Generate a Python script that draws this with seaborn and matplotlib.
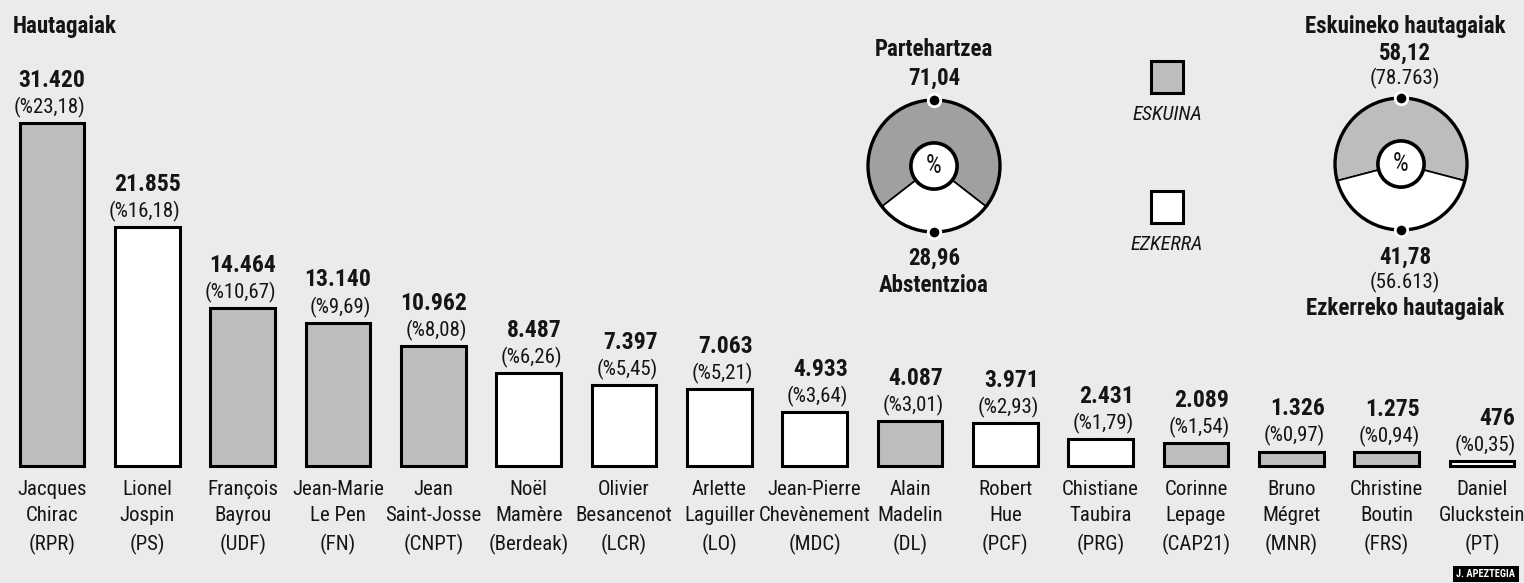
import matplotlib
matplotlib.use("Agg")
import matplotlib.pyplot as plt
import numpy as np
import pandas as pd
import seaborn as sns
from matplotlib import font_manager
from matplotlib.patches import Circle, Rectangle

# --- data -------------------------------------------------------------
names = ["Jacques\nChirac\n(RPR)", "Lionel\nJospin\n(PS)", "François\nBayrou\n(UDF)",
         "Jean-Marie\nLe Pen\n(FN)", "Jean\nSaint-Josse\n(CNPT)", "Noël\nMamère\n(Berdeak)",
         "Olivier\nBesancenot\n(LCR)", "Arlette\nLaguiller\n(LO)", "Jean-Pierre\nChevènement\n(MDC)",
         "Alain\nMadelin\n(DL)", "Robert\nHue\n(PCF)", "Chistiane\nTaubira\n(PRG)",
         "Corinne\nLepage\n(CAP21)", "Bruno\nMégret\n(MNR)", "Christine\nBoutin\n(FRS)",
         "Daniel\nGluckstein\n(PT)"]
votes = [31420, 21855, 14464, 13140, 10962, 8487, 7397, 7063, 4933, 4087, 3971, 2431,
         2089, 1326, 1275, 476]
vote_labels = ["31.420", "21.855", "14.464", "13.140", "10.962", "8.487", "7.397", "7.063",
               "4.933", "4.087", "3.971", "2.431", "2.089", "1.326", "1.275", "476"]
pct_labels = ["(%23,18)", "(%16,18)", "(%10,67)", "(%9,69)", "(%8,08)", "(%6,26)", "(%5,45)",
              "(%5,21)", "(%3,64)", "(%3,01)", "(%2,93)", "(%1,79)", "(%1,54)", "(%0,97)",
              "(%0,94)", "(%0,35)"]
side = ["ESKUINA", "EZKERRA", "ESKUINA", "ESKUINA", "ESKUINA", "EZKERRA", "EZKERRA", "EZKERRA",
        "EZKERRA", "ESKUINA", "EZKERRA", "EZKERRA", "ESKUINA", "ESKUINA", "ESKUINA", "EZKERRA"]

turnout_vals = [71.04, 28.96]
turnout_labels = ["71,04", "28,96"]
bloc_vals = [58.12, 41.78]
bloc_labels = ["58,12", "41,78"]
bloc_votes = ["(78.763)", "(56.613)"]

BG = "#ebebeb"
GREY = "#bdbdbd"
DARK = "#a0a0a0"

sns.set_theme(style="white")
avail = {f.name for f in font_manager.fontManager.ttflist}
fam = "DejaVu Sans"
for cand in ["Roboto Condensed", "Archivo Narrow", "PT Sans Narrow", "IBM Plex Sans Condensed",
             "Liberation Sans Narrow", "Open Sans Condensed"]:
    if cand in avail:
        fam = cand
        break
plt.rcParams['font.family'] = [fam, 'DejaVu Sans']
plt.rcParams['text.color'] = '#151515'

W, H = 1524, 583
fig = plt.figure(figsize=(W / 100, H / 100), dpi=100, facecolor=BG)


def px(x, y):
    return x / W, 1 - y / H


# --- bars -------------------------------------------------------------
ax = fig.add_axes([0, 0, 1, 1])
ax.set_facecolor("none")
df = pd.DataFrame({"name": names, "votes": votes, "side": side})
sns.barplot(data=df, x="name", y="votes", hue="side", dodge=False, width=0.68,
            palette={"ESKUINA": GREY, "EZKERRA": "white"}, edgecolor="black",
            linewidth=2.2, legend=False, ax=ax, saturation=1)
ppx = 95.33            # pixels per category
vpx = 31420 / 343.0    # votes per pixel
ax.set_xlim(-52 / ppx, 15 + 42 / ppx)
ax.set_ylim(-117 * vpx, 466 * vpx)
ax.axis("off")

for i, (v, vl, pl) in enumerate(zip(votes, vote_labels, pct_labels)):
    xr = i + 0.34 + 1.0 / ppx
    ax.annotate(pl, xy=(xr, v), xytext=(0, 7), textcoords="offset points",
                ha="right", va="baseline", fontsize=15)
    ax.annotate(vl, xy=(xr, v), xytext=(0, 26), textcoords="offset points",
                ha="right", va="baseline", fontsize=17, fontweight="bold")
    ax.annotate(names[i], xy=(i, 0), xytext=(0, -10), textcoords="offset points",
                ha="center", va="top", fontsize=15, linespacing=1.5)

fig.text(*px(13, 27), "Hautagaiak", fontsize=16.5, fontweight="bold", va="center")


# --- donuts -----------------------------------------------------------
def donut(cx, cy, r, vals, colour):
    side_px = r * 2.3
    x0, y0 = px(cx - side_px / 2, cy + side_px / 2)
    dax = fig.add_axes([x0, y0, side_px / W, side_px / H])
    frac = vals[0] / sum(vals)
    dax.pie(vals, colors=[colour, "white"], startangle=90 - frac * 180, radius=1,
            wedgeprops=dict(edgecolor="black", linewidth=1.2))
    dax.add_patch(Circle((0, 0), 1, fill=False, ec="black", lw=2.4, zorder=5))
    dax.add_patch(Circle((0, 0), 0.35, fc="white", ec="black", lw=2.6, zorder=5))
    dax.text(0, 0, "%", ha="center", va="center", fontsize=18, zorder=6)
    dax.plot([0, 0], [1, -1], "o", ms=9, mfc="black", mec="white", mew=2,
             zorder=7, clip_on=False)
    dax.set_xlim(-1.15, 1.15)
    dax.set_ylim(-1.15, 1.15)
    dax.axis("off")


donut(934, 166, 66, turnout_vals, DARK)
donut(1401, 164, 66, bloc_vals, GREY)

bold = dict(fontsize=16.5, fontweight="bold", ha="center", va="center")
fig.text(*px(934, 50), "Partehartzea", **bold)
fig.text(*px(934, 78), turnout_labels[0], **bold)
fig.text(*px(934, 258), turnout_labels[1], **bold)
fig.text(*px(934, 285), "Abstentzioa", **bold)

fig.text(*px(1405, 27), "Eskuineko hautagaiak", **bold)
fig.text(*px(1405, 53), bloc_labels[0], **bold)
fig.text(*px(1405, 78), bloc_votes[0], fontsize=15, ha="center", va="center")
fig.text(*px(1405, 257), bloc_labels[1], **bold)
fig.text(*px(1405, 282), bloc_votes[1], fontsize=15, ha="center", va="center")
fig.text(*px(1405, 308), "Ezkerreko hautagaiak", **bold)

# --- legend -----------------------------------------------------------
for y, col, lab, ty in [(61, GREY, "ESKUINA", 114), (191, "white", "EZKERRA", 245)]:
    x0, y0 = px(1151, y + 32)
    fig.add_artist(Rectangle((x0, y0), 32 / W, 32 / H, transform=fig.transFigure,
                             fc=col, ec="black", lw=2.2))
    fig.text(*px(1167, ty), lab, fontsize=14.5, style="italic", ha="center", va="center")

fig.text(*px(1486, 574), "J. APEZTEGIA", fontsize=7.5, fontweight="bold", color="white",
         ha="center", va="center",
         bbox=dict(boxstyle="square,pad=0.3", fc="black", ec="none"))

fig.savefig("out.png", dpi=100, facecolor=BG)
